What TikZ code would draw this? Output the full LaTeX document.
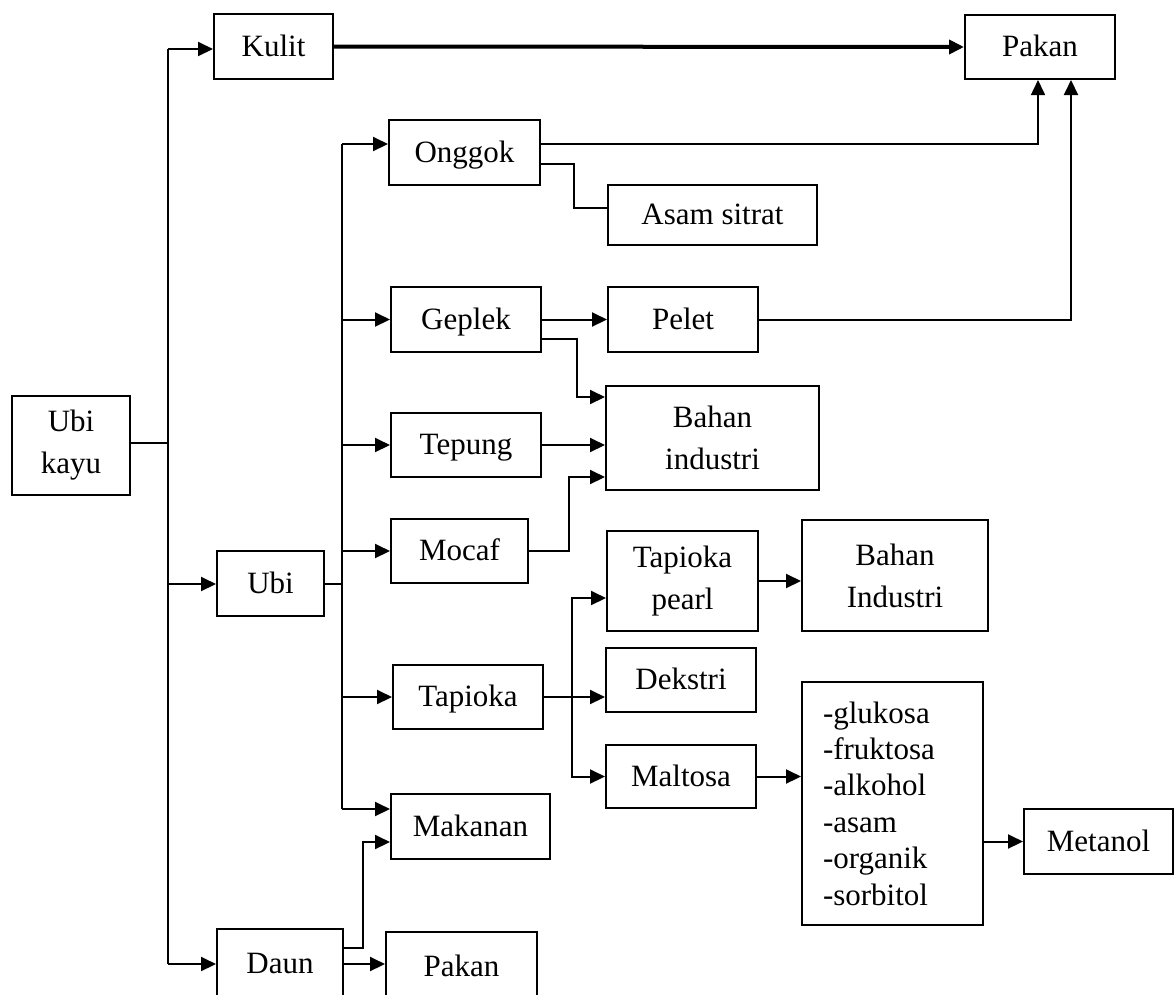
\documentclass[tikz,border=0pt]{standalone}
\usepackage{fontspec}
\setmainfont{Liberation Serif}
\usetikzlibrary{arrows.meta}
\tikzset{
  box/.style={draw, line width=2pt, inner sep=0pt, align=center,
    font=\fontsize{31}{42}\selectfont},
  one/.style={text height=20pt, text depth=1pt},
  conn/.style={line width=2pt},
  arr/.style={line width=2pt, -{Triangle[length=15pt,width=14pt]}},
  thickarr/.style={line width=4pt, -{Triangle[length=15pt,width=14pt]}},
  thinarr/.style={line width=1.6pt, -{Triangle[length=15pt,width=14pt]}}
}
\begin{document}
\begin{tikzpicture}[x=1pt,y=-1pt]
\clip (0,0) rectangle (1174,994);
\fill[white] (0,0) rectangle (1174,994);

% nodes
\node[box, one, minimum width=119pt, minimum height=65pt] (kulit) at (273.5,46.5) {Kulit};
\node[box, one, minimum width=150pt, minimum height=64pt] (pakan1) at (1040,47) {Pakan};
\node[box, minimum width=118pt, minimum height=99pt] (ubikayu) at (71,445.5) {Ubi\\kayu};
\node[box, one, minimum width=107pt, minimum height=65pt] (ubi) at (270.5,583.5) {Ubi};
\node[box, one, minimum width=151pt, minimum height=65pt] (onggok) at (464.5,152.5) {Onggok};
\node[box, one, minimum width=209pt, minimum height=60pt] (asam) at (712.5,215) {Asam sitrat};
\node[box, one, minimum width=150pt, minimum height=65pt] (geplek) at (466,319.5) {Geplek};
\node[box, one, minimum width=150pt, minimum height=65pt] (pelet) at (683,319.5) {Pelet};
\node[box, minimum width=213pt, minimum height=104pt] (bahan1) at (712.5,438) {Bahan\\industri};
\node[box, one, minimum width=150pt, minimum height=64pt] (tepung) at (466,445) {Tepung};
\node[box, one, minimum width=137pt, minimum height=64pt] (mocaf) at (459.5,551) {Mocaf};
\node[box, minimum width=151pt, minimum height=100pt] (tpearl) at (682.5,581) {Tapioka\\pearl};
\node[box, minimum width=186pt, minimum height=111pt] (bahan2) at (895,575.5) {Bahan\\Industri};
\node[box, one, minimum width=150pt, minimum height=64pt] (dekstri) at (681,680) {Dekstri};
\node[box, one, minimum width=150pt, minimum height=64pt] (tapioka) at (468,697) {Tapioka};
\node[box, one, minimum width=150pt, minimum height=63pt] (maltosa) at (681,776.5) {Maltosa};
\node[box, minimum width=181pt, minimum height=243pt, align=left, text width=139pt,
      inner xsep=21pt, font=\fontsize{31}{36.4}\selectfont] (list) at (892.5,803.5)
      {-glukosa\\-fruktosa\\-alkohol\\-asam\\-organik\\-sorbitol};
\node[box, one, minimum width=149pt, minimum height=65pt] (metanol) at (1098.5,841.5) {Metanol};
\node[box, one, minimum width=159pt, minimum height=65pt] (makanan) at (470.5,826.5) {Makanan};
\node[box, one, minimum width=126pt, minimum height=70pt] (daun) at (280,964) {Daun};
\node[box, one, minimum width=151pt, minimum height=70pt] (pakan2) at (461.5,967) {Pakan};

% trunk 1
\coordinate (tk) at (168,49);
\coordinate (tj) at (168,443);
\coordinate (tu) at (168,584);
\coordinate (td) at (168,964);
\draw[conn] (tk) -- (td);
\draw[conn] (ubikayu.east |- tj) -- (tj);
\draw[arr] (tk) -- (tk -| kulit.west);
\draw[arr] (tu) -- (tu -| ubi.west);
\draw[arr] (td) -- (daun.west);

% trunk 2
\coordinate (son) at (342,144);
\coordinate (sge) at (342,319.5);
\coordinate (ste) at (342,445);
\coordinate (smo) at (342,551);
\coordinate (sta) at (342,697);
\coordinate (sma) at (342,809);
\draw[conn] (son) -- (sma);
\draw[conn] (ubi.east) -- (ubi.east -| son);
\draw[arr] (son) -- (son -| onggok.west);
\draw[arr] (sge) -- (geplek.west);
\draw[arr] (ste) -- (tepung.west);
\draw[arr] (smo) -- (mocaf.west);
\draw[arr] (sta) -- (tapioka.west);
\draw[arr] (sma) -- (sma -| makanan.west);

% Kulit -> Pakan
\draw[thickarr] (kulit.east) -- (pakan1.west);

% Onggok
\draw[thinarr] ([yshift=8.5pt]onggok.east) -| ([xshift=-2pt]pakan1.south);
\draw[conn] ([yshift=-11.5pt]onggok.east) -- ++(33pt,0) |- ([yshift=7pt]asam.west);

% Geplek
\draw[arr] (geplek.east) -- (pelet.west);
\draw[arr] (pelet.east) -| ([xshift=31pt]pakan1.south);
\draw[arr] ([yshift=-19.5pt]geplek.east) -- ++(35pt,0) |- ([yshift=41pt]bahan1.west);

% Tepung, Mocaf
\draw[arr] (tepung.east) -- (tepung.east -| bahan1.west);
\draw[arr] (mocaf.east) -- ++(40pt,0) |- ([yshift=-39pt]bahan1.west);

% Tapioka
\coordinate (tbr) at (572,697);
\draw[arr] (tapioka.east) -- (tapioka.east -| dekstri.west);
\draw[arr] (tbr) |- ([yshift=-17pt]tpearl.west);
\draw[arr] (tbr) |- (maltosa.west);
\draw[arr] (tpearl.east) -- (tpearl.east -| bahan2.west);
\draw[arr] (maltosa.east) -- (maltosa.east -| list.west);
\draw[arr] (metanol.west -| list.east) -- (metanol.west);

% Daun
\draw[arr] ([yshift=16pt]daun.east) -- ++(19pt,0) |- ([yshift=-15.5pt]makanan.west);
\draw[arr] (daun.east) -- (daun.east -| pakan2.west);
\end{tikzpicture}
\end{document}
